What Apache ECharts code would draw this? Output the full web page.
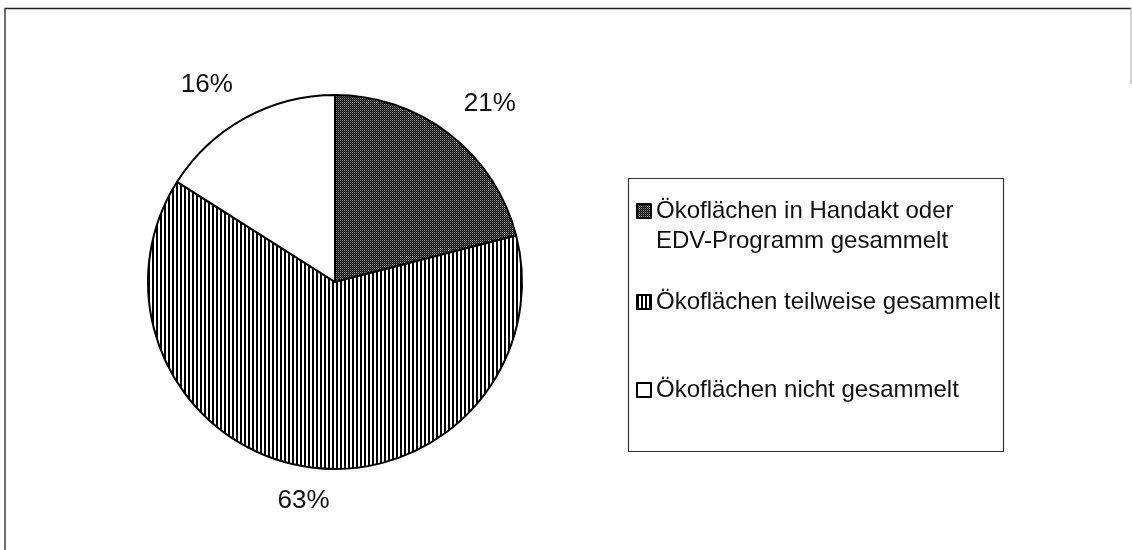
<!DOCTYPE html>
<html>
<head>
<meta charset="utf-8">
<script src="https://cdn.jsdelivr.net/npm/echarts@6/dist/echarts.min.js"></script>
<style>
html,body{margin:0;padding:0;background:#fff;}
#chart{width:1132px;height:550px;}
</style>
</head>
<body>
<div id="chart"></div>
<script>
// ---- data ----
var categories = [
  'Ökoflächen in Handakt oder EDV-Programm gesammelt',
  'Ökoflächen teilweise gesammelt',
  'Ökoflächen nicht gesammelt'
];
var values = [21, 63, 16];
var labelTexts = ['21%', '63%', '16%'];

// ---- patterns ----
function makeDark() {
  var c = document.createElement('canvas'); c.width = 2; c.height = 2;
  var g = c.getContext('2d');
  g.fillStyle = '#000'; g.fillRect(0, 0, 2, 2);
  g.fillStyle = '#9a9a9a'; g.fillRect(0, 0, 1, 1);
  g.fillStyle = '#444'; g.fillRect(1, 1, 1, 1);
  return c;
}
function makeStripes() {
  var c = document.createElement('canvas'); c.width = 4; c.height = 4;
  var g = c.getContext('2d');
  g.fillStyle = '#fff'; g.fillRect(0, 0, 4, 4);
  g.fillStyle = '#000'; g.fillRect(0, 0, 2, 4);
  return c;
}
var fills = [
  { image: makeDark(), repeat: 'repeat' },
  { image: makeStripes(), repeat: 'repeat' },
  '#ffffff'
];
var labelOffsets = [[12, 6], [5, -11], [-16, 7]];

var FONT = "'Liberation Sans', Arial, Helvetica, sans-serif";

var chart = echarts.init(document.getElementById('chart'), null, { renderer: 'canvas' });

var mainData = categories.map(function (n, i) {
  return { name: n, value: values[i], itemStyle: { color: fills[i] } };
});
var labelData = categories.map(function (n, i) {
  return { name: n, value: values[i], label: { formatter: labelTexts[i], offset: labelOffsets[i] } };
});

function legendFor(i, top, fmt) {
  return {
    data: [categories[i]],
    left: 636,
    top: top,
    padding: 0,
    orient: 'vertical',
    icon: 'rect',
    itemWidth: 14,
    itemHeight: 14,
    selectedMode: false,
    textStyle: { fontFamily: FONT, fontSize: 24, color: '#111', lineHeight: 30 },
    formatter: fmt || function (name) { return name; }
  };
}

var option = {
  animation: false,
  backgroundColor: '#ffffff',
  legend: [
    legendFor(0, 166, function (name) { return ' \n' + name.replace(' oder ', ' oder\n'); }),
    legendFor(1, 287),
    legendFor(2, 375)
  ],
  graphic: [
    { type: 'polyline', silent: true, shape: { points: [[5, 550], [5, 8.5], [1131, 8.5]] }, style: { stroke: '#222', lineWidth: 1.3, fill: null } },
    { type: 'line', silent: true, shape: { x1: 1131, y1: 8, x2: 1131, y2: 84 }, style: { stroke: '#aaa', lineWidth: 1 } },
    { type: 'rect', silent: true, shape: { x: 628.5, y: 178.5, width: 375, height: 273 }, style: { stroke: '#333', lineWidth: 1.2, fill: null } }
  ],
  series: [
    {
      type: 'pie',
      center: [335, 282],
      radius: [0, 187],
      startAngle: 90,
      clockwise: true,
      silent: true,
      label: { show: false },
      labelLine: { show: false },
      itemStyle: { borderColor: '#000', borderWidth: 2 },
      emphasis: { disabled: true },
      data: mainData
    },
    {
      type: 'pie',
      center: [335, 282],
      radius: [187, 273],
      startAngle: 90,
      clockwise: true,
      silent: true,
      itemStyle: { color: 'rgba(0,0,0,0)', borderWidth: 0 },
      label: { show: true, position: 'inside', fontFamily: FONT, fontSize: 26, color: '#111' },
      labelLine: { show: false },
      emphasis: { disabled: true },
      data: labelData
    }
  ]
};
chart.setOption(option);
</script>
</body>
</html>
